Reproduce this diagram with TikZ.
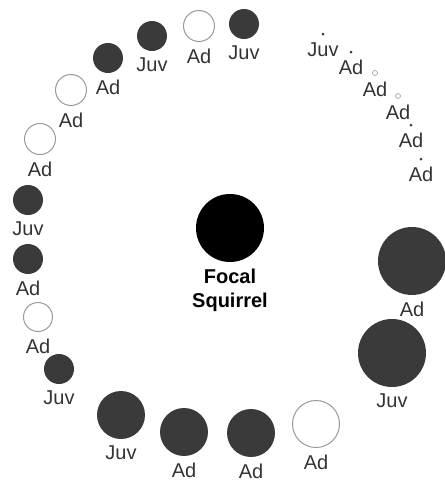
\documentclass[tikz,border=0pt]{standalone}
\usepackage{fontspec}
\setmainfont{Liberation Sans}
\usepackage{tikz}
\usetikzlibrary{positioning}
\definecolor{dotgray}{HTML}{3A3A3A}
\definecolor{ringgray}{HTML}{9A9A9A}
\definecolor{textgray}{HTML}{333333}

\begin{document}
\begin{tikzpicture}[
      x=1pt,y=-1pt,
      font=\fontsize{20}{24}\selectfont,
      label distance=6.5pt,
      lbl/.style={inner sep=0pt,text=textgray},
      dark/.style={circle,inner sep=0pt,fill=dotgray,minimum size=#1},
      open/.style={circle,inner sep=0pt,draw=ringgray,line width=1pt,fill=white,minimum size=#1}
    ]
      \useasboundingbox (0,0) rectangle (445,491);

      % focal animal
      \node[circle,inner sep=0pt,fill=black,minimum size=68pt,
            label={[lbl,text=black,align=center,font=\fontsize{20}{24}\selectfont\bfseries]below:{Focal\\Squirrel}}] (focal) at (230,228) {};

      % top arc
      \node[dark=30pt,label={[lbl]below:Juv}] (s1) at (244,24) {};
      \node[open=31pt,label={[lbl]below:Ad}] (s2) at (199,26) {};
      \node[dark=30pt,label={[lbl]below:Juv}] (s3) at (152,36) {};
      \node[dark=30pt,label={[lbl]below:Ad}] (s4) at (108,58) {};
      \node[open=31pt,label={[lbl]below:Ad}] (s5) at (71,90) {};
      \node[open=31pt,label={[lbl]below:Ad}] (s6) at (40,139) {};

      % left side
      \node[dark=30pt,label={[lbl]below:Juv}] (s7) at (28,200) {};
      \node[dark=30pt,label={[lbl]below:Ad}] (s8) at (28,259) {};
      \node[open=29pt,label={[lbl]below:Ad}] (s9) at (38,317) {};
      \node[dark=30pt,label={[lbl]below:Juv}] (s10) at (59,369) {};

      % bottom
      \node[dark=48pt,label={[lbl]below:Juv}] (s11) at (121,415) {};
      \node[dark=48pt,label={[lbl]below:Ad}] (s12) at (184,432) {};
      \node[dark=48pt,label={[lbl]below:Ad}] (s13) at (251,433) {};
      \node[open=47pt,label={[lbl]below:Ad}] (s14) at (316,424) {};

      % right side
      \node[dark=68pt,label={[lbl]below:Juv}] (s15) at (392,353) {};
      \node[dark=68pt,label={[lbl]below:Ad}] (s16) at (412,261) {};

      % small ones, top right
      \node[dark=3pt,label={[lbl]below:Ad}] (s17) at (421,159) {};
      \node[dark=3pt,label={[lbl]below:Ad}] (s18) at (411,125) {};
      \node[open=5pt,line width=0.6pt,label={[lbl]below:Ad}] (s19) at (398,96) {};
      \node[open=5pt,line width=0.6pt,label={[lbl]below:Ad}] (s20) at (375,73) {};
      \node[dark=3pt,label={[lbl]below:Ad}] (s21) at (351,52) {};
      \node[dark=3pt,label={[lbl]below:Juv}] (s22) at (323,34) {};
    \end{tikzpicture}
\end{document}
